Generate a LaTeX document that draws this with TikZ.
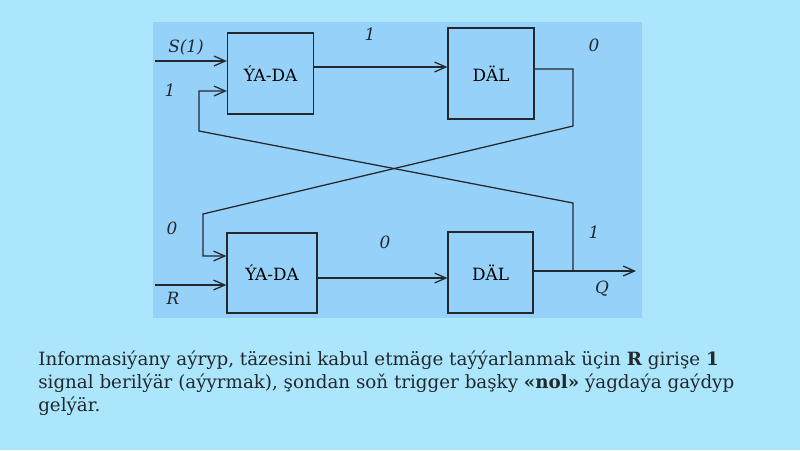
\documentclass[tikz,border=0pt]{standalone}
\usepackage{fontspec}
\setmainfont{DejaVu Serif}
\usetikzlibrary{arrows.meta}
\definecolor{pagebg}{RGB}{171,230,252}
\definecolor{panelbg}{RGB}{150,209,250}
\definecolor{ink}{RGB}{35,40,45}
\tikzset{
  block/.style={draw=ink, line width=0.9pt, font=\large, inner sep=0pt},
  wire/.style={draw=ink, line width=0.9pt, -{Straight Barb[length=8pt,width=7pt]}},
  lvl/.style={font=\large\itshape, text=ink, inner sep=1pt}
}
\begin{document}
\begin{tikzpicture}[x=0.025cm, y=-0.025cm]
  % background and panel
  \fill[pagebg] (0,0) rectangle (800,450);
  \fill[panelbg] (153,22) rectangle (642,318);
  \useasboundingbox (0,0) rectangle (800,450);

  % blocks
  \node[block, minimum width=2.15cm, minimum height=2.02cm] (yada1) at (270.5,73.5) {ÝA-DA};
  \node[block, minimum width=2.15cm, minimum height=2.27cm] (dal1) at (491,73.5) {DÄL};
  \node[block, minimum width=2.25cm, minimum height=2.0cm] (yada2) at (272,273) {ÝA-DA};
  \node[block, minimum width=2.12cm, minimum height=2.02cm] (dal2) at (490.5,272.5) {DÄL};

  % free ends and bends
  \coordinate (sin) at (155,61);
  \coordinate (rin) at (155,285);
  \coordinate (q) at (636,271);
  \coordinate (tap) at (573,271);
  \coordinate (fbA) at (199,91);
  \coordinate (fbB) at (199,131);
  \coordinate (fbC) at (573,203);
  \coordinate (o1) at (573,69);
  \coordinate (o2) at (573,126);
  \coordinate (o3) at (203,214);
  \coordinate (o4) at (203,256);

  % connections
  \draw[wire] (sin) -- (yada1.west |- sin);
  \draw[wire] (yada1.east |- 0,67) -- (dal1.west |- 0,67);
  \draw[wire] (dal1.east |- o1) -- (o1) -- (o2) -- (o3) -- (o4) -- (yada2.west |- o4);
  \draw[wire] (tap) -- (fbC) -- (fbB) -- (fbA) -- (yada1.west |- fbA);
  \draw[wire] (rin) -- (yada2.west |- rin);
  \draw[wire] (yada2.east |- 0,278) -- (dal2.west |- 0,278);
  \draw[wire] (dal2.east |- q) -- (q);

  % signal levels
  \node[lvl] (ls) at (186,47) {S(1)};
  \node[lvl] (l1a) at (170,90) {1};
  \node[lvl] (l1b) at (370,34) {1};
  \node[lvl] (l0a) at (594,45) {0};
  \node[lvl] (l0b) at (172,228) {0};
  \node[lvl] (l0c) at (385,242) {0};
  \node[lvl] (l1c) at (594,232) {1};
  \node[lvl] (lr) at (173,298) {R};
  \node[lvl] (lq) at (602,289) {Q};

  % caption
  \node[anchor=north west, align=left, inner sep=0pt, text=ink,
        font=\fontsize{13}{16.3}\selectfont] (cap) at (38,351)
    {Informasiýany aýryp, täzesini kabul etmäge taýýarlanmak üçin \textbf{R} girişe \textbf{1}\\
     signal berilýär (aýyrmak), şondan soň trigger başky \textbf{«nol»} ýagdaýa gaýdyp\\
     gelýär.};
\end{tikzpicture}
\end{document}
